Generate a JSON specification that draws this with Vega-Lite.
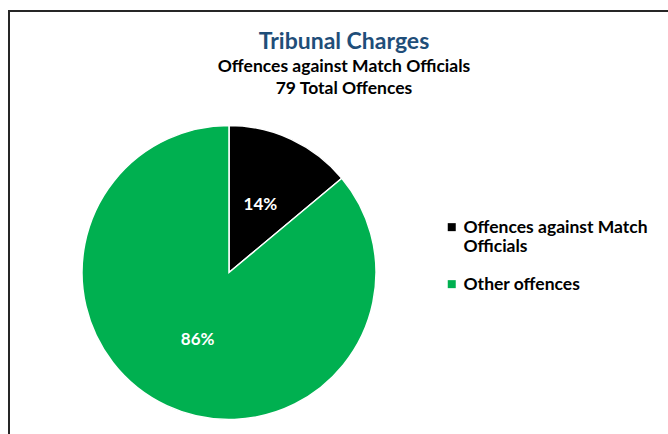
{
  "$schema": "https://vega.github.io/schema/vega-lite/v6.json",
  "width": 670,
  "height": 440,
  "autosize": {"type": "none"},
  "padding": {"left": 9, "top": 11, "right": 0, "bottom": 0},
  "background": "white",
  "view": {"stroke": "#262626", "strokeWidth": 2, "fill": "white"},
  "config": {"view": {"stroke": "#262626", "strokeWidth": 2}},
  "title": {
    "text": "Tribunal Charges",
    "subtitle": ["Offences against Match Officials", "79 Total Offences"],
    "anchor": "middle",
    "frame": "group",
    "orient": "top",
    "offset": -86,
    "font": "Lato",
    "fontSize": 23,
    "fontWeight": "bold",
    "color": "#1F4E79",
    "subtitleFont": "Lato",
    "subtitleFontSize": 17.5,
    "subtitleFontWeight": "bold",
    "subtitleColor": "#000000",
    "subtitleLineHeight": 22,
    "subtitlePadding": 4
  },
  "data": {
    "values": [
      {"category": "Offences against Match Officials", "value": 11, "pct": "14%", "idx": 1},
      {"category": "Other offences", "value": 68, "pct": "86%", "idx": 2}
    ]
  },
  "encoding": {
    "theta": {"field": "value", "type": "quantitative", "stack": true},
    "order": {"field": "idx", "type": "quantitative"}
  },
  "layer": [
    {
      "mark": {"type": "arc", "outerRadius": 147, "stroke": "white", "strokeWidth": 1.5, "x": 220, "y": 261.5},
      "encoding": {
        "color": {
          "field": "category",
          "type": "nominal",
          "scale": {"domain": ["Offences against Match Officials", "Other offences"], "range": ["#000000", "#00B050"]},
          "legend": {
            "title": null,
            "orient": "none",
            "legendX": 434,
            "legendY": 213,
            "symbolType": "M-1,-2.4H1V-0.4H-1Z",
            "symbolSize": 64,
            "symbolStrokeWidth": 0,
            "labelBaseline": "alphabetic",
            "labelFont": "Lato",
            "labelFontSize": 17.5,
            "labelFontWeight": "bold",
            "labelColor": "#000000",
            "labelLineHeight": 23,
            "labelLimit": 300,
            "labelOffset": 3,
            "rowPadding": 19,
            "labelExpr": "datum.label == 'Offences against Match Officials' ? ['Offences against Match', 'Officials'] : datum.label"
          }
        }
      }
    },
    {
      "mark": {"type": "text", "radius": 74, "x": 220, "y": 261.5, "fill": "white", "font": "Lato", "fontSize": 17, "fontWeight": "bold"},
      "encoding": {"text": {"field": "pct", "type": "nominal"}}
    }
  ]
}
